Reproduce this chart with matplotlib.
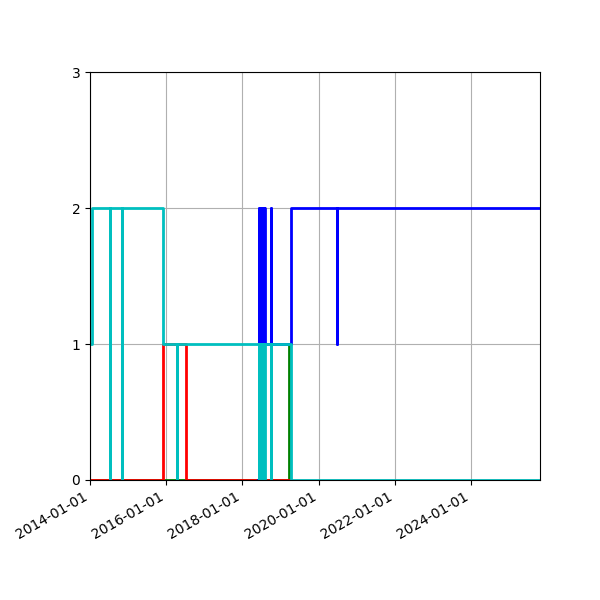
import matplotlib
matplotlib.use('Agg')
import matplotlib.pyplot as plt
import matplotlib.dates as mdates
import numpy as np

# step series, value holds until the next date
green_dates = ['2014-01-01', '2019-03-22', '2019-04-02']
green_values = [0, 1, 1]

red_dates = ['2014-01-01', '2015-12-03', '2016-07-11', '2019-04-02']
red_values = [0, 1, 0, 0]

blue_dates = ['2018-06-02', '2018-06-04', '2018-06-12', '2018-06-14', '2018-06-22',
              '2018-06-24', '2018-07-02', '2018-07-04', '2018-07-12', '2018-07-14',
              '2018-07-22', '2018-07-24', '2018-08-04', '2018-10-03', '2018-10-05',
              '2019-04-15', '2020-06-22', '2020-06-24', '2025-11-04']
blue_values = [0, 2, 1, 2, 1,
               2, 1, 2, 1, 2,
               1, 2, 1, 2, 1,
               2, 1, 2, 2]

cyan_dates = ['2014-01-01', '2014-01-20', '2014-07-12', '2014-07-14', '2014-11-05',
              '2014-11-07', '2015-12-03', '2016-04-15', '2016-04-17', '2018-06-04',
              '2018-06-12', '2018-06-14', '2018-06-22', '2018-06-24', '2018-07-02',
              '2018-07-04', '2018-07-12', '2018-07-14', '2018-07-22', '2018-07-24',
              '2018-08-04', '2018-10-03', '2018-10-05', '2019-04-08', '2025-11-04']
cyan_values = [1, 2, 0, 2, 0,
               2, 1, 0, 1, 0,
               1, 0, 1, 0, 1,
               0, 1, 0, 1, 0,
               1, 0, 1, 0, 0]

x_start = '2014-01-01'
x_end = '2025-10-22'

if __name__ == '__main__':
    fig, ax = plt.subplots(figsize=(6, 6), dpi=100)

    for dates, values, color in [(green_dates, green_values, 'g'),
                                 (red_dates, red_values, 'r'),
                                 (blue_dates, blue_values, 'b'),
                                 (cyan_dates, cyan_values, 'c')]:
        ax.plot(np.array(dates, dtype='datetime64[D]'), values, color=color,
                drawstyle='steps-post', linewidth=2)

    ax.set_xlim(np.datetime64(x_start), np.datetime64(x_end))
    ax.set_ylim(0, 3)
    ax.set_yticks([0, 1, 2, 3])
    ax.xaxis.set_major_locator(mdates.YearLocator(2))
    ax.xaxis.set_major_formatter(mdates.DateFormatter('%Y-%m-%d'))
    ax.grid(True)
    fig.autofmt_xdate()
    fig.subplots_adjust(left=0.15)
    fig.savefig('out.png')
